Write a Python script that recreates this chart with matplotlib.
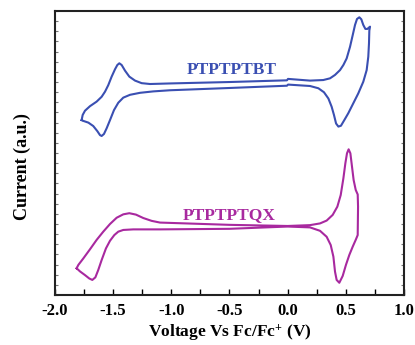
import matplotlib
matplotlib.use("Agg")
import matplotlib.pyplot as plt
import numpy as np

plt.rcParams['font.family'] = ['Liberation Serif', 'DejaVu Serif']
plt.rcParams['font.weight'] = 'bold'
plt.rcParams['mathtext.fontset'] = 'custom'
plt.rcParams['mathtext.rm'] = 'Liberation Serif:bold'
plt.rcParams['mathtext.it'] = 'Liberation Serif:bold'
plt.rcParams['mathtext.bf'] = 'Liberation Serif:bold'

# PTPTPTBT closed CV loop (voltage V, current a.u.)
bt_v = [-1.771, -1.762, -1.742, -1.699, -1.642, -1.599, -1.570, -1.542, -1.513, -1.484,
        -1.464, -1.447, -1.427, -1.398, -1.361, -1.312, -1.255, -1.183, -1.097, -1.011,
        -0.500, -0.006, 0.003, 0.192, 0.306, 0.364, 0.407, 0.450, 0.479, 0.507,
        0.536, 0.559, 0.579, 0.596, 0.616, 0.633, 0.650, 0.668, 0.685, 0.708,
        0.702, 0.699, 0.693, 0.679, 0.650, 0.607, 0.564, 0.521, 0.487, 0.458,
        0.436, 0.416, 0.398, 0.378, 0.350, 0.312, 0.264, 0.192, 0.003, -0.006,
        -0.500, -1.011, -1.155, -1.269, -1.355, -1.413, -1.456, -1.493, -1.527, -1.556,
        -1.579, -1.599, -1.613, -1.636, -1.671, -1.713, -1.756, -1.771]
bt_i = [61.6, 63.4, 64.9, 66.5, 68.1, 69.8, 71.6, 73.9, 76.9, 79.5,
        81.0, 81.6, 81.0, 79.0, 76.9, 75.5, 74.6, 74.3, 74.4, 74.5,
        75.0, 75.6, 76.1, 75.5, 75.7, 76.3, 77.5, 79.2, 81.0, 83.3,
        87.4, 91.5, 95.1, 97.2, 97.8, 97.1, 95.1, 93.7, 93.7, 94.5,
        93.1, 88.6, 83.9, 79.2, 75.1, 71.0, 67.5, 64.0, 61.6, 59.6,
        59.3, 60.4, 63.4, 66.3, 69.2, 71.4, 72.8, 73.6, 74.1, 73.7,
        72.9, 72.1, 71.7, 71.2, 70.5, 69.5, 67.7, 65.1, 61.6, 58.7,
        56.7, 56.0, 56.3, 57.7, 59.5, 60.7, 61.3, 61.6]

# PTPTPTQX closed CV loop
qx_v = [-1.814, -1.799, -1.756, -1.699, -1.642, -1.585, -1.527, -1.470, -1.413, -1.361,
        -1.304, -1.241, -1.169, -1.097, -0.500, 0.000, 0.192, 0.278, 0.335, 0.387,
        0.427, 0.456, 0.479, 0.496, 0.510, 0.524, 0.539, 0.553, 0.567, 0.585,
        0.602, 0.605, 0.602, 0.587, 0.559, 0.530, 0.501, 0.473, 0.444, 0.421,
        0.407, 0.393, 0.370, 0.335, 0.278, 0.192, 0.000, -0.500, -1.097, -1.327,
        -1.413, -1.456, -1.490, -1.527, -1.562, -1.599, -1.628, -1.653, -1.679, -1.705,
        -1.742, -1.785, -1.814]
qx_i = [9.4, 10.6, 12.9, 16.1, 19.4, 22.3, 25.0, 27.2, 28.4, 28.8,
        28.3, 27.1, 26.1, 25.5, 24.7, 24.3, 24.6, 25.2, 26.2, 28.2,
        31.1, 35.2, 41.1, 46.4, 49.9, 51.3, 49.9, 45.2, 40.5, 37.0,
        35.4, 31.1, 21.1, 19.6, 17.0, 14.1, 10.6, 6.7, 4.3, 5.3,
        8.2, 13.5, 17.6, 20.5, 22.6, 23.8, 24.1, 23.3, 23.1, 23.1,
        22.9, 22.3, 21.1, 19.1, 16.4, 12.3, 8.8, 6.2, 5.3, 5.8,
        7.0, 8.3, 9.4]

labels = ["PTPTPTBT", "PTPTPTQX"]
x_ticks = [-2.0, -1.5, -1.0, -0.5, 0.0, 0.5, 1.0]

blue = '#3a4fb2'
magenta = '#a8299f'

fig = plt.figure(figsize=(4.15, 3.45), dpi=100)
ax = fig.add_axes([0.1325, 0.145, 0.841, 0.823])

ax.plot(bt_v, bt_i, color=blue, lw=1.5, solid_joinstyle='round')
ax.plot(qx_v, qx_i, color=magenta, lw=1.5, solid_joinstyle='round')

ax.text(-0.478, 79.3, labels[0], color=blue, fontsize=12.5, fontweight='bold',
        ha='center', va='center')
ax.text(-0.504, 28.3, labels[1], color=magenta, fontsize=12.5, fontweight='bold',
        ha='center', va='center')

ax.set_xlim(-2.0, 1.0)
ax.set_ylim(0, 100)
ax.set_xticks(x_ticks)
ax.set_xticklabels(["%.1f" % t for t in x_ticks], fontsize=12, fontweight='bold')
ax.set_xticks(np.arange(-2.0, 1.01, 0.25), minor=True)
ax.set_yticks(np.linspace(0, 100, 29))
ax.set_yticklabels([])
ax.tick_params(axis='x', which='both', direction='in', length=4, width=1, top=False,
               pad=6, colors='black')
ax.tick_params(axis='y', which='both', direction='in', length=2.5, width=0.8,
               left=True, right=True, colors='#777777')
for s in ax.spines.values():
    s.set_linewidth(1.5)
    s.set_color('#222222')

ax.set_xlabel("Voltage Vs Fc/Fc$^{+}$ (V)", fontsize=12.5, fontweight='bold', labelpad=2)
ax.set_ylabel("Current (a.u.)", fontsize=13, fontweight='bold')
ax.yaxis.set_label_coords(-0.068, 0.454)

fig.savefig("out.png", dpi=100)
